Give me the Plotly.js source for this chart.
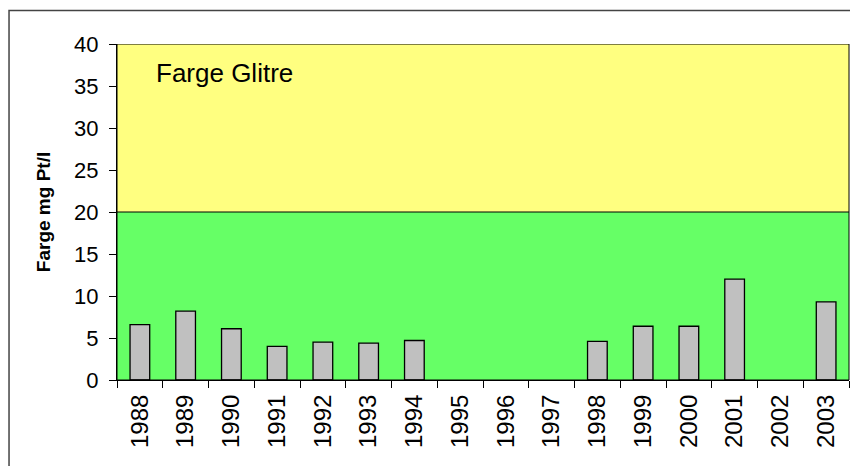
<!DOCTYPE html>
<html>
<head>
<meta charset="utf-8">
<script src="https://cdn.plot.ly/plotly-3.0.1.min.js"></script>
<style>html,body{margin:0;padding:0;background:#fff;}#chart{width:850px;height:466px;}</style>
</head>
<body>
<div id="chart"></div>
<script>
const years = ["1988","1989","1990","1991","1992","1993","1994","1995","1996","1997","1998","1999","2000","2001","2002","2003"];
const farge = [6.6, 8.2, 6.1, 4.0, 4.5, 4.4, 4.7, null, null, null, 4.6, 6.4, 6.4, 12.0, null, 9.3];
const yTicks = [0, 5, 10, 15, 20, 25, 30, 35, 40];
const yMax = 40;
const limit = 20;
const label = "Farge Glitre";
const yTitle = "Farge mg Pt/l";

const font = "Liberation Sans, Arial, sans-serif";

const trace = {
  type: "bar",
  x: years,
  y: farge,
  marker: { color: "#C0C0C0", line: { color: "#000", width: 1.3 } },
  hoverinfo: "x+y"
};

const layout = {
  width: 850, height: 466,
  margin: { l: 117, r: 1, t: 44, b: 86, pad: 0 },
  paper_bgcolor: "#fff",
  plot_bgcolor: "#fff",
  showlegend: false,
  bargap: 0.57,
  font: { family: font, size: 16, color: "#000" },
  xaxis: {
    type: "category",
    tickangle: -90,
    ticks: "outside",
    tickson: "boundaries",
    ticklen: 7,
    tickcolor: "#000",
    tickwidth: 1,
    showline: true,
    linecolor: "#000",
    linewidth: 1,
    showgrid: false,
    zeroline: false,
    tickfont: { family: font, size: 24, color: "#000" },
    ticklabelstandoff: 4
  },
  yaxis: {
    range: [0, yMax],
    tickvals: yTicks,
    ticktext: yTicks.map(String),
    ticks: "outside",
    ticklen: 7,
    tickcolor: "#000",
    tickwidth: 1,
    showline: true,
    linecolor: "#000",
    linewidth: 1,
    showgrid: false,
    zeroline: false,
    tickfont: { family: font, size: 22, color: "#000" },
    ticklabelstandoff: 6,
    title: { text: "<b>" + yTitle + "</b>", font: { family: font, size: 19, color: "#000" }, standoff: 18 }
  },
  shapes: [
    { type: "rect", xref: "paper", yref: "y", x0: 0, x1: 1, y0: limit, y1: yMax, fillcolor: "#FFFF80", line: { width: 0 }, layer: "below" },
    { type: "rect", xref: "paper", yref: "y", x0: 0, x1: 1, y0: 0, y1: limit, fillcolor: "#66FF66", line: { width: 0 }, layer: "below" },
    { type: "line", xref: "paper", yref: "y", x0: 0, x1: 1, y0: limit, y1: limit, line: { color: "#000", width: 1 } },
    { type: "rect", xref: "paper", yref: "y", x0: 0, x1: 1, y0: 0, y1: yMax, line: { color: "#000", width: 1 } },
    { type: "rect", xref: "paper", yref: "paper", x0: -0.1475, x1: 1.05, y0: -0.4, y1: 1.1, line: { color: "#444", width: 1.5 } }
  ],
  annotations: [
    { xref: "paper", yref: "y", x: 0.05, y: 36.5, xanchor: "left", yanchor: "middle", text: label, showarrow: false, font: { family: font, size: 26, color: "#000" } }
  ]
};

Plotly.newPlot("chart", [trace], layout, { displayModeBar: false, staticPlot: true });
</script>
</body>
</html>
